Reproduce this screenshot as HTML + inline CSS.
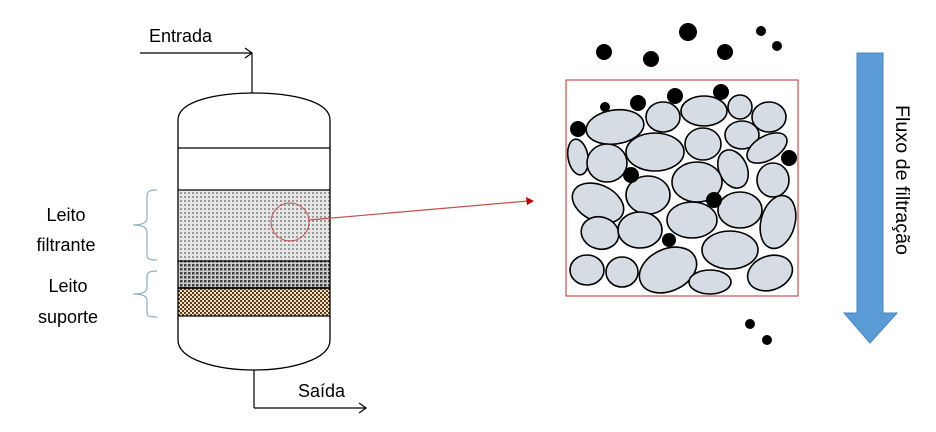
<!DOCTYPE html>
<html><head><meta charset="utf-8"><style>
html,body{margin:0;padding:0;background:#fff;}
svg{display:block;}
text{font-family:"Liberation Sans",sans-serif;font-size:18px;fill:#000;}
</style></head><body>
<svg width="936" height="432" viewBox="0 0 936 432" xmlns="http://www.w3.org/2000/svg">
<defs>
<pattern id="p1" width="4" height="4" patternUnits="userSpaceOnUse"><rect width="4" height="4" fill="#e6e6e6"/><rect x="0" y="0" width="2" height="2" fill="#9a9a9a"/></pattern>
<pattern id="p2" width="4" height="4" patternUnits="userSpaceOnUse"><rect width="4" height="4" fill="#d0d0d0"/><rect x="0" y="0" width="2.5" height="2.5" fill="#404040"/></pattern>
<pattern id="p3" width="4" height="4" patternUnits="userSpaceOnUse"><rect width="4" height="4" fill="#f3dfbf"/><rect x="0" y="0" width="2" height="2" fill="#5a3d1e"/><rect x="2" y="2" width="2" height="2" fill="#5a3d1e"/></pattern>
</defs>
<line x1="140" y1="53" x2="252" y2="53" stroke="#000" stroke-width="1.2"/>
<polyline points="245,48 252,53 245,58" fill="none" stroke="#000" stroke-width="1.2"/>
<line x1="252" y1="53" x2="252" y2="93" stroke="#000" stroke-width="1.2"/>
<text x="149" y="42">Entrada</text>
<rect x="178" y="190" width="152" height="71" fill="url(#p1)"/>
<rect x="178" y="261" width="152" height="27" fill="url(#p2)"/>
<rect x="178" y="288" width="152" height="28" fill="url(#p3)"/>
<path d="M178,120 C178,100 220,93 254,93 C288,93 330,100 330,120 L330,340 C330,360 290,370 254,370 C218,370 178,360 178,340 Z" fill="none" stroke="#000" stroke-width="1.3"/>
<line x1="178" y1="148" x2="330" y2="148" stroke="#000" stroke-width="1.3"/>
<line x1="178" y1="190" x2="330" y2="190" stroke="#000" stroke-width="1.3"/>
<line x1="178" y1="261" x2="330" y2="261" stroke="#000" stroke-width="1.3"/>
<line x1="178" y1="288" x2="330" y2="288" stroke="#000" stroke-width="1.8"/>
<line x1="178" y1="316" x2="330" y2="316" stroke="#000" stroke-width="1.3"/>
<line x1="254" y1="370" x2="254" y2="408" stroke="#000" stroke-width="1.2"/>
<line x1="254" y1="408" x2="366" y2="408" stroke="#000" stroke-width="1.2"/>
<polyline points="359,403 366,408 359,413" fill="none" stroke="#000" stroke-width="1.2"/>
<text x="298" y="397">Saída</text>
<path d="M157,190 C147,190 147,192 147,200 L147,218 C147,224 140,225 133,225 C140,225 147,226 147,232 L147,252 C147,259 147,260 157,260" fill="none" stroke="#8fb0c4" stroke-width="1.2"/>
<path d="M157,271 C147,271 147,273 147,280 L147,288 C147,293 140,294 133,294 C140,294 147,295 147,300 L147,310 C147,316 147,317 157,317" fill="none" stroke="#8fb0c4" stroke-width="1.2"/>
<text x="66" y="221" text-anchor="middle">Leito</text>
<text x="66" y="251" text-anchor="middle">filtrante</text>
<text x="68" y="292" text-anchor="middle">Leito</text>
<text x="68" y="323" text-anchor="middle">suporte</text>
<circle cx="290" cy="222" r="19" fill="none" stroke="#c0504d" stroke-width="1"/>
<line x1="309" y1="220" x2="528" y2="201" stroke="#c0504d" stroke-width="1.2"/>
<polygon points="534,201 526,197 527,205" fill="#c00000"/>
<rect x="566" y="80" width="232" height="216" fill="#fff" stroke="#b03030" stroke-width="1"/>
<g fill="#d6dce4" stroke="#000" stroke-width="1.6">
<ellipse cx="615" cy="127" rx="29" ry="17" transform="rotate(-8 615 127)"/>
<ellipse cx="663" cy="117" rx="17" ry="15"/>
<ellipse cx="704" cy="111" rx="23" ry="15"/>
<ellipse cx="740" cy="107" rx="12" ry="12"/>
<ellipse cx="769" cy="117" rx="17" ry="15"/>
<ellipse cx="578" cy="157" rx="10" ry="18" transform="rotate(-10 578 157)"/>
<ellipse cx="607" cy="163" rx="20" ry="19"/>
<ellipse cx="655" cy="152" rx="29" ry="19"/>
<ellipse cx="703" cy="144" rx="18" ry="16"/>
<ellipse cx="742" cy="135" rx="17" ry="14"/>
<ellipse cx="767" cy="148" rx="22" ry="12" transform="rotate(-30 767 148)"/>
<ellipse cx="733" cy="169" rx="14" ry="20" transform="rotate(-25 733 169)"/>
<ellipse cx="773" cy="180" rx="16" ry="17"/>
<ellipse cx="697" cy="182" rx="25" ry="20"/>
<ellipse cx="598" cy="203" rx="27" ry="18" transform="rotate(25 598 203)"/>
<ellipse cx="648" cy="195" rx="22" ry="19"/>
<ellipse cx="692" cy="220" rx="25" ry="18"/>
<ellipse cx="740" cy="210" rx="22" ry="18"/>
<ellipse cx="778" cy="222" rx="17" ry="27" transform="rotate(15 778 222)"/>
<ellipse cx="600" cy="233" rx="19" ry="16" transform="rotate(15 600 233)"/>
<ellipse cx="640" cy="230" rx="22" ry="18"/>
<ellipse cx="730" cy="250" rx="28" ry="19"/>
<ellipse cx="587" cy="270" rx="17" ry="15"/>
<ellipse cx="622" cy="272" rx="16" ry="15"/>
<ellipse cx="668" cy="270" rx="30" ry="21" transform="rotate(-25 668 270)"/>
<ellipse cx="710" cy="282" rx="21" ry="12"/>
<ellipse cx="770" cy="273" rx="23" ry="17" transform="rotate(-20 770 273)"/>
</g>
<g fill="#000">
<circle cx="604" cy="52" r="8"/><circle cx="651" cy="59" r="8"/><circle cx="688" cy="32" r="9"/>
<circle cx="725" cy="52" r="8"/><circle cx="761" cy="31" r="5"/><circle cx="777" cy="46" r="5"/>
<circle cx="605" cy="107" r="5"/><circle cx="638" cy="103" r="8"/><circle cx="675" cy="96" r="8"/>
<circle cx="721" cy="92" r="8"/><circle cx="578" cy="129" r="8"/><circle cx="789" cy="158" r="8"/>
<circle cx="631" cy="175" r="8"/><circle cx="714" cy="200" r="8"/><circle cx="669" cy="240" r="7"/>
<circle cx="750" cy="324" r="5"/><circle cx="767" cy="340" r="5"/>
</g>
<polygon points="857,53 883,53 883,313 897,313 870,343 844,313 857,313" fill="#5b9bd5" stroke="#4a86c0" stroke-width="1"/>
<text x="0" y="0" transform="translate(896,105) rotate(90)" style="font-size:19px" textLength="150" lengthAdjust="spacingAndGlyphs">Fluxo de filtração</text>
</svg>
</body></html>
